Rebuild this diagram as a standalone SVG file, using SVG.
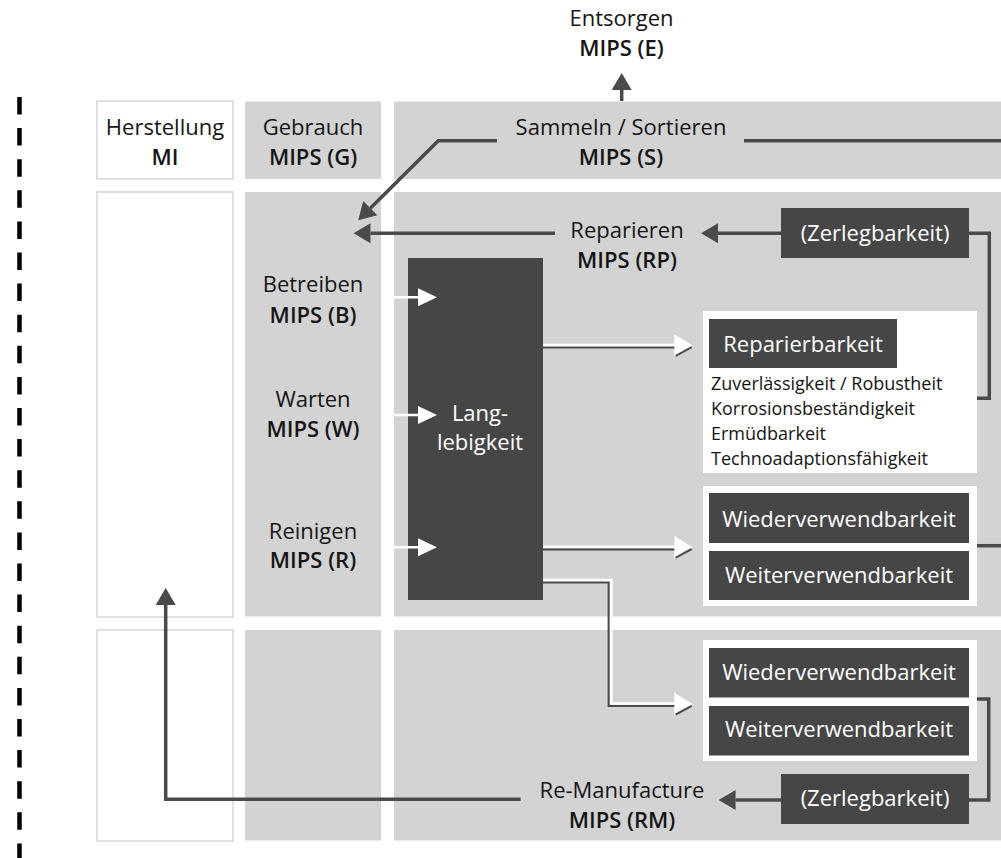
<svg xmlns="http://www.w3.org/2000/svg" width="1001" height="858" viewBox="0 0 1001 858">
  <style>
    .lbl { font-family: "Open Sans", "Liberation Sans", sans-serif; font-size: 22px; fill: #151515; text-anchor: middle; }
    .mips { font-weight: 600; }
    .inv { fill: #ffffff; }
    .small { font-family: "Open Sans", "Liberation Sans", sans-serif; font-size: 18px; fill: #151515; }
    .gray { fill: #d3d3d3; }
    .plain { fill: #ffffff; stroke: #e0e0e0; stroke-width: 2; }
    .dark { fill: #464646; }
    .card { fill: #ffffff; }
    .wire { fill: none; stroke: #4a4a4a; stroke-width: 3.5; }
    .wire-w { fill: none; stroke: #ffffff; stroke-width: 2.5; }
    .shadow { fill: none; stroke: #4a4a4a; stroke-width: 2; }
    .tip-w { fill: #ffffff; }
  </style>
  <defs>
    <marker id="headDark" markerUnits="userSpaceOnUse" markerWidth="17" markerHeight="20" refX="0" refY="10" orient="auto" overflow="visible">
      <path d="M0,0 L17,10 L0,20 Z" fill="#4a4a4a"/>
    </marker>
    <marker id="headWhite" markerUnits="userSpaceOnUse" markerWidth="19" markerHeight="18" refX="0" refY="9" orient="auto" overflow="visible">
      <path d="M0,0 L19,9 L0,18 Z" fill="#ffffff"/>
    </marker>
    <!-- white arrowhead with a dark lower edge, tip at (0,0) pointing right -->
    <g id="tipShadow">
      <path class="tip-w" d="M-18.4,-11.3 L0,0 L-18.4,11 Z"/>
      <path class="shadow" d="M-17,10.4 L-1,1.7"/>
    </g>
  </defs>

  <rect width="1001" height="858" fill="#ffffff"/>

  <!-- dashed boundary on the left -->
  <line x1="19.5" y1="97" x2="19.5" y2="858" stroke="#000000" stroke-width="4.5" stroke-dasharray="17.5 13.6"/>

  <!-- phase grid -->
  <g id="grid">
    <rect id="herstellung-head" class="plain" x="97" y="101" width="136" height="78"/>
    <rect id="gebrauch-head" class="gray" x="245" y="101.5" width="136" height="77.5"/>
    <rect id="sammeln-head" class="gray" x="394" y="101.5" width="620" height="77.5"/>
    <rect id="herstellung-mid" class="plain" x="97" y="192" width="136" height="425"/>
    <rect id="gebrauch-mid" class="gray" x="245" y="192" width="136" height="424.5"/>
    <rect id="nutzung-mid" class="gray" x="394" y="192" width="620" height="424.5"/>
    <rect id="herstellung-low" class="plain" x="97" y="630" width="136" height="211"/>
    <rect id="gebrauch-low" class="gray" x="245" y="630" width="136" height="210.5"/>
    <rect id="nutzung-low" class="gray" x="394" y="630" width="620" height="210.5"/>
  </g>

  <g id="entsorgen">
    <text class="lbl" x="621.5" y="26">Entsorgen</text>
    <text class="lbl mips" x="621.5" y="56">MIPS (E)</text>
  </g>
  <g id="herstellung">
    <text class="lbl" x="165" y="135">Herstellung</text>
    <text class="lbl mips" x="165" y="165">MI</text>
  </g>
  <g id="gebrauch">
    <text class="lbl" x="313" y="135">Gebrauch</text>
    <text class="lbl mips" x="313" y="165">MIPS (G)</text>
  </g>
  <g id="sammeln">
    <text class="lbl" x="621" y="135">Sammeln / Sortieren</text>
    <text class="lbl mips" x="621" y="165">MIPS (S)</text>
  </g>
  <g id="reparieren">
    <text class="lbl" x="627" y="238">Reparieren</text>
    <text class="lbl mips" x="627" y="268">MIPS (RP)</text>
  </g>
  <g id="betreiben">
    <text class="lbl" x="313" y="292">Betreiben</text>
    <text class="lbl mips" x="313" y="323">MIPS (B)</text>
  </g>
  <g id="warten">
    <text class="lbl" x="313" y="407">Warten</text>
    <text class="lbl mips" x="313" y="437">MIPS (W)</text>
  </g>
  <g id="reinigen">
    <text class="lbl" x="313" y="539">Reinigen</text>
    <text class="lbl mips" x="313" y="568">MIPS (R)</text>
  </g>
  <g id="remanufacture">
    <text class="lbl" x="622" y="798">Re-Manufacture</text>
    <text class="lbl mips" x="622" y="828">MIPS (RM)</text>
  </g>

  <g id="langlebigkeit">
    <rect class="dark" x="408" y="258" width="135" height="342"/>
    <text class="lbl inv" x="480" y="421">Lang-</text>
    <text class="lbl inv" x="480" y="450">lebigkeit</text>
  </g>

  <g id="zerlegbarkeit-oben">
    <rect class="dark" x="781" y="208" width="188" height="50"/>
    <text class="lbl inv" x="875" y="241">(Zerlegbarkeit)</text>
  </g>

  <g id="reparierbarkeit">
    <rect class="card" x="703" y="311" width="274" height="162"/>
    <rect class="dark" x="709" y="319" width="188" height="49"/>
    <text class="lbl inv" x="803" y="352">Reparierbarkeit</text>
    <text class="small" x="711" y="390">Zuverlässigkeit / Robustheit</text>
    <text class="small" x="711" y="415">Korrosionsbeständigkeit</text>
    <text class="small" x="711" y="440">Ermüdbarkeit</text>
    <text class="small" x="711" y="465">Technoadaptionsfähigkeit</text>
  </g>

  <g id="verwendung-mitte">
    <rect class="card" x="703" y="486" width="274" height="120"/>
    <rect class="dark" x="709" y="493" width="260" height="50"/>
    <rect class="dark" x="709" y="551" width="260" height="49"/>
    <text class="lbl inv" x="839" y="527">Wiederverwendbarkeit</text>
    <text class="lbl inv" x="839" y="583">Weiterverwendbarkeit</text>
  </g>

  <g id="verwendung-unten">
    <rect class="card" x="703" y="640" width="274" height="121"/>
    <rect class="dark" x="709" y="648" width="260" height="49.5"/>
    <rect class="dark" x="709" y="706" width="260" height="49.5"/>
    <text class="lbl inv" x="839" y="680">Wiederverwendbarkeit</text>
    <text class="lbl inv" x="839" y="737">Weiterverwendbarkeit</text>
  </g>

  <g id="zerlegbarkeit-unten">
    <rect class="dark" x="781" y="774" width="188" height="50"/>
    <text class="lbl inv" x="875" y="806">(Zerlegbarkeit)</text>
  </g>

  <g id="connectors">
    <!-- dark flows -->
    <path class="wire" d="M621.7,101 V90" marker-end="url(#headDark)"/>
    <path class="wire" d="M497,140.7 H438.3 L370.3,208.2" marker-end="url(#headDark)"/>
    <path class="wire" d="M744,140.7 H1001"/>
    <path class="wire" d="M555,233.3 H370.5" marker-end="url(#headDark)"/>
    <path class="wire" d="M781,233.3 H718" marker-end="url(#headDark)"/>
    <path class="wire" d="M969,233.3 H989.3 V398.3 H977"/>
    <path class="wire" d="M977,545.7 H1001"/>
    <path class="wire" d="M977,699 H988.7 V800 H969"/>
    <path class="wire" d="M781,800 H735.6" marker-end="url(#headDark)"/>
    <path class="wire" d="M520.6,799.3 H165.7 V605" marker-end="url(#headDark)"/>

    <!-- white inputs into Langlebigkeit -->
    <path class="wire-w" d="M383,297.3 H418" marker-end="url(#headWhite)"/>
    <path class="wire-w" d="M383,415 H418" marker-end="url(#headWhite)"/>
    <path class="wire-w" d="M383,547.3 H418" marker-end="url(#headWhite)"/>

    <!-- white outputs from Langlebigkeit, each with a thin dark shadow -->
    <path class="shadow" d="M543,347.6 H676"/>
    <path class="wire-w" d="M543,345 H676"/>
    <use href="#tipShadow" x="692.7" y="345.5"/>

    <path class="shadow" d="M543,549.4 H676"/>
    <path class="wire-w" d="M543,546.8 H676"/>
    <use href="#tipShadow" x="692.7" y="547.3"/>

    <path class="shadow" d="M543,582.6 H608.6 V706 H676"/>
    <path class="wire-w" d="M543,580 H611.4 V703.6 H676"/>
    <use href="#tipShadow" x="692.7" y="704.1"/>
  </g>
</svg>
